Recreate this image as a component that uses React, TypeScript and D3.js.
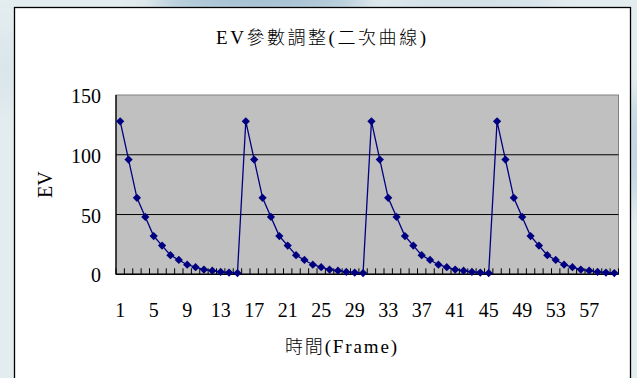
import React from "react";
import * as d3 from "d3";

// EV value per frame (frames 1..60)
const frames: number[] = [
  1, 2, 3, 4, 5, 6, 7, 8, 9, 10, 11, 12, 13, 14, 15, 16, 17, 18, 19, 20,
  21, 22, 23, 24, 25, 26, 27, 28, 29, 30, 31, 32, 33, 34, 35, 36, 37, 38, 39, 40,
  41, 42, 43, 44, 45, 46, 47, 48, 49, 50, 51, 52, 53, 54, 55, 56, 57, 58, 59, 60,
];
const evValues: number[] = [
  128, 96, 64, 48, 32, 24, 16, 12, 8, 6, 4, 3, 2, 1.5, 1,
  128, 96, 64, 48, 32, 24, 16, 12, 8, 6, 4, 3, 2, 1.5, 1,
  128, 96, 64, 48, 32, 24, 16, 12, 8, 6, 4, 3, 2, 1.5, 1,
  128, 96, 64, 48, 32, 24, 16, 12, 8, 6, 4, 3, 2, 1.5, 1,
];
const xTickLabels: number[] = [1, 5, 9, 13, 17, 21, 25, 29, 33, 37, 41, 45, 49, 53, 57];
const yTicks: number[] = [0, 50, 100, 150];

// titles split into Latin / CJK runs so each gets its own face
const titleRuns: [string, boolean][] = [
  ["EV", false],
  ["參數調整", true],
  ["(", false],
  ["二次曲線", true],
  [")", false],
];
const xTitleRuns: [string, boolean][] = [
  ["時間", true],
  ["(Frame)", false],
];
const yTitle = "EV";

const W = 637;
const H = 378;
const plot = { left: 116, right: 618.5, top: 95, bottom: 274.3 };
const SERIF = "Liberation Serif";
const CJK = "Noto Sans CJK TC";
const NAVY = "#000080";

function Runs({ runs, size }: { runs: [string, boolean][]; size: number }) {
  return (
    <>
      {runs.map(([s, cjk], i) => (
        <tspan
          key={i}
          fontFamily={cjk ? CJK : SERIF}
          fontWeight={cjk ? 300 : 400}
          fontSize={cjk ? size - 1 : size}
        >
          {s}
        </tspan>
      ))}
    </>
  );
}

export default function App() {
  const x = d3
    .scaleBand<number>()
    .domain(frames)
    .range([plot.left, plot.right])
    .padding(0);
  const y = d3.scaleLinear().domain([0, 150]).range([plot.bottom, plot.top]);
  const cx = (f: number) => (x(f) as number) + x.bandwidth() / 2;

  const pts = frames.map((f, i) => ({ f, v: evValues[i] }));
  const line = d3
    .line<{ f: number; v: number }>()
    .x((d) => cx(d.f))
    .y((d) => y(d.v));
  const diamond = d3.symbol().type(d3.symbolSquare).size(34)() as string;

  // tick marks on category boundaries
  const boundaries = frames.map((f) => x(f) as number).concat([plot.right]);

  return (
    <svg
      width={W}
      height={H}
      style={{ position: "absolute", left: 0, top: 0 }}
      fontFamily={SERIF}
    >
      <defs>
        <filter id="soft" x="-50%" y="-50%" width="200%" height="200%">
          <feGaussianBlur stdDeviation="12" />
        </filter>
      </defs>
      {/* slide background */}
      <rect x={0} y={0} width={W} height={H} fill="#e3ecef" />
      <ellipse cx={260} cy={0} rx={110} ry={10} fill="#7ea6c0" filter="url(#soft)" />
      <ellipse cx={470} cy={0} rx={90} ry={6} fill="#b9cfdc" filter="url(#soft)" />
      <ellipse cx={640} cy={150} rx={8} ry={60} fill="#9dbdd2" filter="url(#soft)" />
      <ellipse cx={4} cy={70} rx={6} ry={40} fill="#cddce3" filter="url(#soft)" />

      {/* chart frame */}
      <rect x={14.5} y={7.5} width={616} height={380} fill="#ffffff" stroke="#000" strokeWidth={1.3} />

      {/* plot area */}
      <rect
        x={plot.left}
        y={plot.top}
        width={plot.right - plot.left}
        height={plot.bottom - plot.top}
        fill="#c0c0c0"
        stroke="#808080"
        strokeWidth={1}
      />
      {yTicks
        .filter((t) => t > 0 && t < 150)
        .map((t) => (
          <line key={t} x1={plot.left} x2={plot.right} y1={y(t)} y2={y(t)} stroke="#000" strokeWidth={1} />
        ))}

      {/* axes */}
      <line x1={plot.left} x2={plot.left} y1={plot.top} y2={plot.bottom} stroke="#000" strokeWidth={1.3} />
      <line x1={plot.left} x2={plot.right} y1={plot.bottom} y2={plot.bottom} stroke="#000" strokeWidth={1.5} />
      {boundaries.map((b, i) => (
        <line key={i} x1={b} x2={b} y1={plot.bottom} y2={plot.bottom - 6} stroke="#000" strokeWidth={1} />
      ))}

      {/* series */}
      <path d={line(pts) as string} fill="none" stroke={NAVY} strokeWidth={1.3} />
      {pts.map((p) => (
        <path
          key={p.f}
          d={diamond}
          transform={`translate(${cx(p.f)},${y(p.v)}) rotate(45)`}
          fill={NAVY}
        />
      ))}

      {/* y tick labels */}
      {yTicks.map((t) => (
        <text key={t} x={101} y={y(t) + 8} textAnchor="end" fontSize={20} fill="#000">
          {t}
        </text>
      ))}
      {/* x tick labels */}
      {xTickLabels.map((f) => (
        <text key={f} x={cx(f)} y={317} textAnchor="middle" fontSize={20} fill="#000">
          {f}
        </text>
      ))}

      {/* titles */}
      <text x={321} y={44} textAnchor="middle" fill="#000" textLength={210} lengthAdjust="spacing">
        <Runs runs={titleRuns} size={19} />
      </text>
      <text x={341} y={353} textAnchor="middle" fill="#000" textLength={112} lengthAdjust="spacing">
        <Runs runs={xTitleRuns} size={19} />
      </text>
      <text
        transform={`translate(52,${(plot.top + plot.bottom) / 2}) rotate(-90)`}
        textAnchor="middle"
        fontSize={20}
        fill="#000"
      >
        {yTitle}
      </text>
    </svg>
  );
}
